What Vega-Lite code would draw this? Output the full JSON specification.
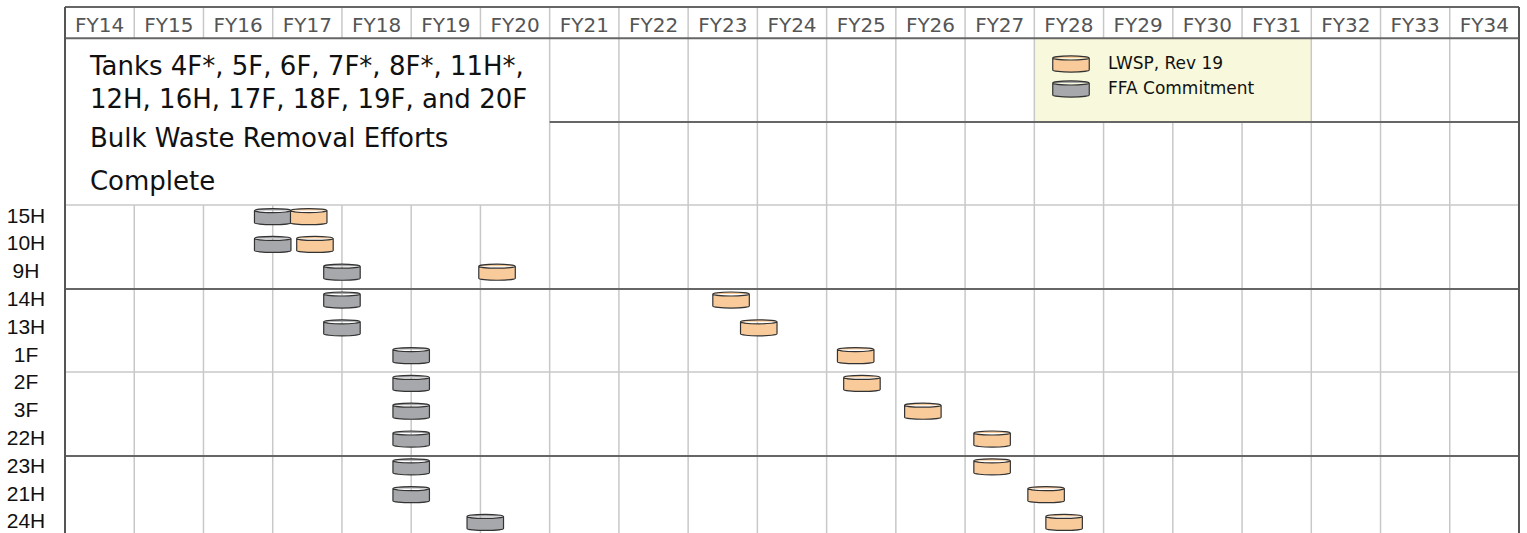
{
  "$schema": "https://vega.github.io/schema/vega-lite/v6.json",
  "width": 1454,
  "height": 526,
  "autosize": {"type": "none"},
  "padding": {"left": 65, "top": 7, "right": 8, "bottom": 0},
  "background": "white",
  "config": {"view": {"stroke": null}},
  "datasets": {
    "years": [
      {"label": "FY14", "mid": 14.5, "y": -6.64}, {"label": "FY15", "mid": 15.5, "y": -6.64}, {"label": "FY16", "mid": 16.5, "y": -6.64},
      {"label": "FY17", "mid": 17.5, "y": -6.64}, {"label": "FY18", "mid": 18.5, "y": -6.64}, {"label": "FY19", "mid": 19.5, "y": -6.64},
      {"label": "FY20", "mid": 20.5, "y": -6.64}, {"label": "FY21", "mid": 21.5, "y": -6.64}, {"label": "FY22", "mid": 22.5, "y": -6.64},
      {"label": "FY23", "mid": 23.5, "y": -6.64}, {"label": "FY24", "mid": 24.5, "y": -6.64}, {"label": "FY25", "mid": 25.5, "y": -6.64},
      {"label": "FY26", "mid": 26.5, "y": -6.64}, {"label": "FY27", "mid": 27.5, "y": -6.64}, {"label": "FY28", "mid": 28.5, "y": -6.64},
      {"label": "FY29", "mid": 29.5, "y": -6.64}, {"label": "FY30", "mid": 30.5, "y": -6.64}, {"label": "FY31", "mid": 31.5, "y": -6.64},
      {"label": "FY32", "mid": 32.5, "y": -6.64}, {"label": "FY33", "mid": 33.5, "y": -6.64}, {"label": "FY34", "mid": 34.5, "y": -6.64}
    ],
    "vgrid": [
      {"x": 15, "y1": -7.54, "y2": -6.42}, {"x": 15, "y1": -0.42, "y2": 11.38},
      {"x": 16, "y1": -7.54, "y2": -6.42}, {"x": 16, "y1": -0.42, "y2": 11.38},
      {"x": 17, "y1": -7.54, "y2": -6.42}, {"x": 17, "y1": -0.42, "y2": 11.38},
      {"x": 18, "y1": -7.54, "y2": -6.42}, {"x": 18, "y1": -0.42, "y2": 11.38},
      {"x": 19, "y1": -7.54, "y2": -6.42}, {"x": 19, "y1": -0.42, "y2": 11.38},
      {"x": 20, "y1": -7.54, "y2": -6.42}, {"x": 20, "y1": -0.42, "y2": 11.38},
      {"x": 21, "y1": -7.54, "y2": 11.38}, {"x": 22, "y1": -7.54, "y2": 11.38},
      {"x": 23, "y1": -7.54, "y2": 11.38}, {"x": 24, "y1": -7.54, "y2": 11.38},
      {"x": 25, "y1": -7.54, "y2": 11.38}, {"x": 26, "y1": -7.54, "y2": 11.38},
      {"x": 27, "y1": -7.54, "y2": 11.38}, {"x": 28, "y1": -7.54, "y2": 11.38},
      {"x": 29, "y1": -7.54, "y2": -6.42}, {"x": 29, "y1": -3.40, "y2": 11.38},
      {"x": 30, "y1": -7.54, "y2": -6.42}, {"x": 30, "y1": -3.40, "y2": 11.38},
      {"x": 31, "y1": -7.54, "y2": -6.42}, {"x": 31, "y1": -3.40, "y2": 11.38},
      {"x": 32, "y1": -7.54, "y2": 11.38}, {"x": 33, "y1": -7.54, "y2": 11.38},
      {"x": 34, "y1": -7.54, "y2": 11.38}
    ],
    "lightH": [
      {"y": -0.42, "x1": 14, "x2": 35},
      {"y": 5.59, "x1": 14, "x2": 35}
    ],
    "darkH": [
      {"y": -7.54, "x1": 14, "x2": 35},
      {"y": -6.42, "x1": 14, "x2": 35},
      {"y": -3.40, "x1": 21, "x2": 35},
      {"y": 2.60, "x1": 14, "x2": 35},
      {"y": 8.61, "x1": 14, "x2": 35}
    ],
    "frame": [
      {"x": 14, "y1": -7.54, "y2": 11.38},
      {"x": 35, "y1": -7.54, "y2": 11.38}
    ],
    "legendBox": [{"x1": 28, "x2": 32, "y1": -6.42, "y2": -3.40}],
    "note": [
      {"line": "Tanks 4F*, 5F, 6F, 7F*, 8F*, 11H*,", "x": 14.36, "y": -5.08},
      {"line": "12H, 16H, 17F, 18F, 19F, and 20F", "x": 14.36, "y": -3.89},
      {"line": "Bulk Waste Removal Efforts", "x": 14.36, "y": -2.50},
      {"line": "Complete", "x": 14.36, "y": -0.97}
    ],
    "tanks": [
      {"tank": "15H", "row": 0, "axis": 14}, {"tank": "10H", "row": 1, "axis": 14}, {"tank": "9H", "row": 2, "axis": 14},
      {"tank": "14H", "row": 3, "axis": 14}, {"tank": "13H", "row": 4, "axis": 14}, {"tank": "1F", "row": 5, "axis": 14},
      {"tank": "2F", "row": 6, "axis": 14}, {"tank": "3F", "row": 7, "axis": 14}, {"tank": "22H", "row": 8, "axis": 14},
      {"tank": "23H", "row": 9, "axis": 14}, {"tank": "21H", "row": 10, "axis": 14}, {"tank": "24H", "row": 11, "axis": 14}
    ],
    "milestones": [
      {"tank": "15H", "row": 0, "plan": "FFA Commitment", "fy": 17.0},
      {"tank": "10H", "row": 1, "plan": "FFA Commitment", "fy": 17.0},
      {"tank": "9H", "row": 2, "plan": "FFA Commitment", "fy": 18.0},
      {"tank": "14H", "row": 3, "plan": "FFA Commitment", "fy": 18.0},
      {"tank": "13H", "row": 4, "plan": "FFA Commitment", "fy": 18.0},
      {"tank": "1F", "row": 5, "plan": "FFA Commitment", "fy": 19.0},
      {"tank": "2F", "row": 6, "plan": "FFA Commitment", "fy": 19.0},
      {"tank": "3F", "row": 7, "plan": "FFA Commitment", "fy": 19.0},
      {"tank": "22H", "row": 8, "plan": "FFA Commitment", "fy": 19.0},
      {"tank": "23H", "row": 9, "plan": "FFA Commitment", "fy": 19.0},
      {"tank": "21H", "row": 10, "plan": "FFA Commitment", "fy": 19.0},
      {"tank": "24H", "row": 11, "plan": "FFA Commitment", "fy": 20.07},
      {"tank": "15H", "row": 0, "plan": "LWSP, Rev 19", "fy": 17.52},
      {"tank": "10H", "row": 1, "plan": "LWSP, Rev 19", "fy": 17.61},
      {"tank": "9H", "row": 2, "plan": "LWSP, Rev 19", "fy": 20.24},
      {"tank": "14H", "row": 3, "plan": "LWSP, Rev 19", "fy": 23.62},
      {"tank": "13H", "row": 4, "plan": "LWSP, Rev 19", "fy": 24.02},
      {"tank": "1F", "row": 5, "plan": "LWSP, Rev 19", "fy": 25.42},
      {"tank": "2F", "row": 6, "plan": "LWSP, Rev 19", "fy": 25.51},
      {"tank": "3F", "row": 7, "plan": "LWSP, Rev 19", "fy": 26.39},
      {"tank": "22H", "row": 8, "plan": "LWSP, Rev 19", "fy": 27.39},
      {"tank": "23H", "row": 9, "plan": "LWSP, Rev 19", "fy": 27.39},
      {"tank": "21H", "row": 10, "plan": "LWSP, Rev 19", "fy": 28.17},
      {"tank": "24H", "row": 11, "plan": "LWSP, Rev 19", "fy": 28.43}
    ]
  },
  "layer": [
    {
      "data": {"name": "legendBox"},
      "mark": {"type": "rect", "fill": "#F8F8DC"},
      "encoding": {
        "x": {"field": "x1", "type": "quantitative", "scale": {"domain": [14, 35], "nice": false, "zero": false}, "axis": null},
        "x2": {"field": "x2"},
        "y": {"field": "y1", "type": "quantitative", "scale": {"domain": [-7.54, 11.38], "reverse": true, "nice": false, "zero": false}, "axis": null},
        "y2": {"field": "y2"}
      }
    },
    {
      "data": {"name": "vgrid"},
      "mark": {"type": "rule", "stroke": "#C8C8C8", "strokeWidth": 1.5},
      "encoding": {
        "x": {"field": "x", "type": "quantitative", "axis": null},
        "y": {"field": "y1", "type": "quantitative", "axis": null},
        "y2": {"field": "y2"}
      }
    },
    {
      "data": {"name": "lightH"},
      "mark": {"type": "rule", "stroke": "#C8C8C8", "strokeWidth": 1.5},
      "encoding": {
        "x": {"field": "x1", "type": "quantitative", "axis": null},
        "x2": {"field": "x2"},
        "y": {"field": "y", "type": "quantitative", "axis": null}
      }
    },
    {
      "data": {"name": "darkH"},
      "mark": {"type": "rule", "stroke": "#666666", "strokeWidth": 2},
      "encoding": {
        "x": {"field": "x1", "type": "quantitative", "axis": null},
        "x2": {"field": "x2"},
        "y": {"field": "y", "type": "quantitative", "axis": null}
      }
    },
    {
      "data": {"name": "frame"},
      "mark": {"type": "rule", "stroke": "#555555", "strokeWidth": 2},
      "encoding": {
        "x": {"field": "x", "type": "quantitative", "axis": null},
        "y": {"field": "y1", "type": "quantitative", "axis": null},
        "y2": {"field": "y2"}
      }
    },
    {
      "data": {"name": "years"},
      "mark": {"type": "text", "font": "DejaVu Sans", "fontSize": 20, "fill": "#555555", "align": "center", "baseline": "alphabetic"},
      "encoding": {
        "x": {"field": "mid", "type": "quantitative", "axis": null},
        "y": {"field": "y", "type": "quantitative", "axis": null},
        "text": {"field": "label", "type": "nominal"}
      }
    },
    {
      "data": {"name": "note"},
      "mark": {"type": "text", "font": "DejaVu Sans", "fontSize": 26, "fill": "#111111", "align": "left", "baseline": "alphabetic"},
      "encoding": {
        "x": {"field": "x", "type": "quantitative", "axis": null},
        "y": {"field": "y", "type": "quantitative", "axis": null},
        "text": {"field": "line", "type": "nominal"}
      }
    },
    {
      "data": {"name": "tanks"},
      "mark": {"type": "text", "font": "Liberation Sans", "fontSize": 21, "fill": "#111111", "align": "center", "baseline": "middle", "dx": -39},
      "encoding": {
        "x": {"field": "axis", "type": "quantitative", "axis": null},
        "y": {"field": "row", "type": "quantitative", "axis": null},
        "text": {"field": "tank", "type": "nominal"}
      }
    },
    {
      "data": {"name": "milestones"},
      "mark": {
        "type": "point",
        "filled": true,
        "opacity": 1,
        "size": 333,
        "stroke": "#333333",
        "strokeWidth": 1.2,
        "shape": "M -2 -0.66 A 2 0.22 0 0 1 2 -0.66 L 2 0.66 A 2 0.22 0 0 1 -2 0.66 Z M -2 -0.66 A 2 0.22 0 0 0 2 -0.66"
      },
      "encoding": {
        "x": {"field": "fy", "type": "quantitative", "axis": null},
        "y": {"field": "row", "type": "quantitative", "axis": null},
        "fill": {
          "field": "plan",
          "type": "nominal",
          "scale": {"domain": ["LWSP, Rev 19", "FFA Commitment"], "range": ["#F9CB9B", "#A7A8AC"]},
          "legend": {
            "orient": "none",
            "legendX": 996,
            "legendY": 47,
            "title": null,
            "symbolType": "M -2 -0.66 A 2 0.22 0 0 1 2 -0.66 L 2 0.66 A 2 0.22 0 0 1 -2 0.66 Z M -2 -0.66 A 2 0.22 0 0 0 2 -0.66",
            "symbolSize": 333,
            "symbolStrokeColor": "#333333",
            "symbolStrokeWidth": 1.2,
            "labelFont": "DejaVu Sans",
            "labelFontSize": 17,
            "labelColor": "#111111",
            "labelLimit": 300,
            "labelOffset": 27,
            "rowPadding": 3
          }
        }
      }
    }
  ]
}
